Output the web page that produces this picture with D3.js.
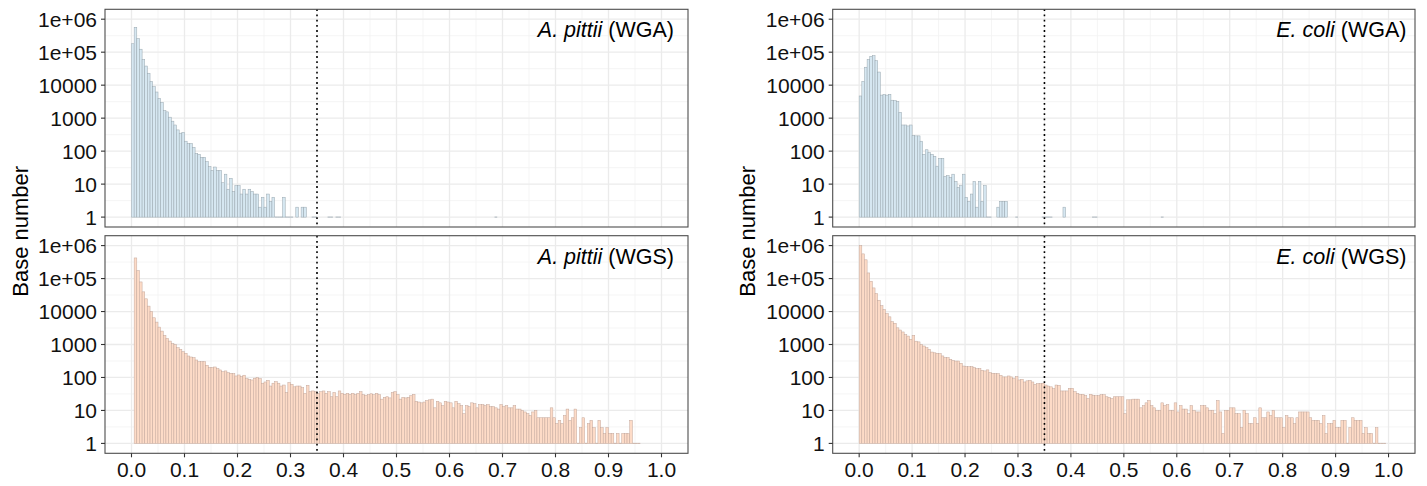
<!DOCTYPE html>
<html>
<head>
<meta charset="utf-8">
<script src="https://cdn.jsdelivr.net/npm/d3@7"></script>
<style>
  body { margin: 0; background: #fff; }
  text { font-family: "Liberation Sans", Arial, sans-serif; }
</style>
</head>
<body>
<svg id="chart" width="1427" height="486"></svg>
<script>
// Histograms of allele fraction, 0.005 wide bins, counts on a log axis

const BINWIDTH = 0.005;
const CUTOFF = 0.35;   // dotted threshold line

const xTicks = [0, 0.1, 0.2, 0.3, 0.4, 0.5, 0.6, 0.7, 0.8, 0.9, 1.0];
const xTickLabels = ["0.0", "0.1", "0.2", "0.3", "0.4", "0.5", "0.6", "0.7", "0.8", "0.9", "1.0"];
const yTicks = [1, 10, 100, 1000, 10000, 1e5, 1e6];
const yTickLabels = ["1", "10", "100", "1000", "10000", "1e+05", "1e+06"];

const species = ["A. pittii", "E. coli"];
const libraries = ["WGA", "WGS"];

// counts per bin, bin i starts at i * BINWIDTH
const apittiiWGA = [
  180000, 570000, 260000, 123000, 60000, 38000, 23000, 13000, 9000, 6200,
  4000, 3000, 1700, 1550, 1070, 810, 620, 440, 350, 370,
  200, 170, 170, 130, 85, 80, 65, 65, 48, 34,
  26, 33, 26, 26, 11, 20, 7, 15, 6, 9,
  9, 5, 7, 5, 7, 6, 5, 5, 2, 4,
  2, 5, 3, 4, 1, 1, 1, 4, 1, 1,
  1, 0, 2, 0, 2, 2, 0, 0, 1, 1,
  0, 0, 0, 0, 1, 1, 0, 1, 1, 0,
  0, 0, 0, 0, 0, 0, 0, 0, 0, 0,
  0, 0, 0, 0, 0, 0, 0, 0, 0, 0,
  0, 0, 0, 0, 0, 0, 0, 0, 0, 0,
  0, 0, 0, 0, 0, 0, 0, 0, 0, 0,
  0, 0, 0, 0, 0, 0, 0, 0, 0, 0,
  0, 0, 0, 0, 0, 0, 0, 1
];

const apittiiWGS = [
  0, 422000, 175000, 79000, 39500, 24300, 14600, 9950, 6460, 4780,
  3370, 2550, 1890, 1530, 1270, 1060, 990, 800, 713, 606,
  540, 448, 418, 399, 339, 302, 302, 302, 234, 199,
  199, 208, 186, 169, 150, 158, 140, 134, 131, 111,
  119, 106, 117, 92, 88, 84, 95, 99, 92, 67,
  73, 82, 55, 67, 75, 67, 55, 59, 35, 70,
  62, 52, 55, 55, 49, 33, 58, 37, 39, 37,
  33, 37, 39, 33, 37, 26, 35, 26, 39, 33,
  31, 33, 31, 33, 30, 33, 37, 30, 29, 30,
  32, 30, 33, 30, 22, 25, 26, 24, 35, 37,
  30, 22, 25, 24, 25, 28, 31, 19, 18, 17,
  18, 20, 21, 22, 12, 19, 17, 14, 19, 18,
  17, 12, 19, 16, 14, 8, 14, 13, 17, 16,
  12, 15, 15, 14, 15, 13, 13, 12, 11, 15,
  13, 14, 12, 12, 14, 11, 11, 10, 9, 8,
  7, 9, 10, 6, 6, 6, 6, 6, 12, 6,
  4, 5, 4, 7, 11, 5, 6, 11, 1, 3,
  6, 1, 4, 5, 3, 1, 5, 3, 2, 3,
  2, 2, 1, 2, 1, 2, 2, 2, 5, 1,
  1, 1
];

const ecoliWGA = [
  4700, 13000, 35000, 60000, 75000, 78000, 55000, 25000, 5000, 5200,
  5000, 5300, 3500, 3400, 3200, 1500, 620, 620, 580, 620,
  300, 290, 290, 200, 80, 110, 90, 80, 70, 35,
  60, 60, 17, 18, 16, 20, 12, 8, 9, 20,
  4, 3, 5, 12, 2, 12, 3, 9, 1, 1,
  0, 0, 2, 3, 3, 3, 0, 0, 0, 1,
  0, 0, 0, 0, 0, 0, 0, 0, 0, 1,
  1, 1, 1, 0, 0, 0, 0, 2, 0, 0,
  0, 0, 0, 0, 0, 0, 0, 0, 1, 1,
  0, 0, 0, 0, 0, 0, 0, 0, 0, 0,
  0, 0, 0, 0, 0, 0, 0, 0, 0, 0,
  0, 0, 0, 0, 1
];

const ecoliWGS = [
  1000000, 560000, 370000, 148000, 83000, 52000, 35000, 22000, 15000, 11500,
  8700, 6900, 4900, 4400, 3200, 2750, 2400, 2000, 1800, 1440,
  1900, 1260, 1200, 1000, 900, 800, 710, 590, 560, 540,
  530, 450, 400, 400, 355, 330, 315, 315, 270, 222,
  212, 212, 212, 198, 185, 185, 165, 158, 170, 140,
  134, 131, 131, 116, 104, 104, 111, 104, 92, 106,
  84, 88, 73, 79, 82, 73, 62, 65, 65, 67,
  59, 55, 52, 46, 59, 58, 39, 39, 39, 47,
  47, 37, 33, 31, 31, 28, 23, 31, 29, 28,
  28, 30, 30, 26, 25, 23, 26, 26, 26, 26,
  8, 21, 21, 22, 22, 22, 12, 14, 17, 20,
  14, 12, 10, 10, 17, 14, 15, 10, 10, 17,
  9, 14, 11, 11, 8, 14, 10, 9, 9, 14,
  14, 12, 10, 10, 8, 20, 9, 2, 10, 10,
  12, 12, 8, 8, 3, 10, 8, 4, 4, 6,
  4, 12, 6, 6, 9, 7, 10, 6, 6, 6,
  3, 7, 6, 6, 4, 6, 9, 9, 9, 9,
  6, 5, 5, 5, 4, 7, 2, 4, 4, 5,
  3, 3, 5, 5, 1, 3, 6, 5, 5, 5,
  2, 3, 2, 2, 1, 3, 1, 1, 1
];

// panel grid: columns = species, rows = library
const panels = [
  {col: 0, row: 0, counts: apittiiWGA},
  {col: 0, row: 1, counts: apittiiWGS},
  {col: 1, row: 0, counts: ecoliWGA},
  {col: 1, row: 1, counts: ecoliWGS}
];

const FILLS = ["#d6e7f1", "#fddbc7"];     // WGA, WGS
const STROKES = ["#98a6ae", "#c3a79b"];

const cols = [{x0: 105, x1: 688, label: 674, title: 20}, {x0: 832.7, x1: 1415, label: 1406.5, title: 747}];
const rows = [{y0: 9.3, y1: 227}, {y0: 235.7, y1: 453.3}];

const svg = d3.select("#chart");

// shared log y domain, 5% expansion in log space like ggplot
const maxCount = d3.max(panels, p => d3.max(p.counts));
const logHi = Math.log10(maxCount);
const pad = 0.05 * logHi;
const yDomain = [Math.pow(10, -pad), Math.pow(10, logHi + pad)];

const xMinor = d3.range(0.05, 1.0, 0.1);
const yMinor = d3.range(0, 6).map(k => Math.pow(10, k + 0.5));

panels.forEach(function(p) {
    let c = cols[p.col], r = rows[p.row];
    let x = d3.scaleLinear().domain([-0.05, 1.05]).range([c.x0, c.x1]);
    let y = d3.scaleLog().domain(yDomain).range([r.y1, r.y0]);
    let g = svg.append("g");

    // Grid lines
    g.selectAll(".xminor").data(xMinor).enter().append("line")
        .attr("x1", d => x(d)).attr("x2", d => x(d))
        .attr("y1", r.y0).attr("y2", r.y1)
        .attr("stroke", "#f3f3f3").attr("stroke-width", 0.8);
    g.selectAll(".yminor").data(yMinor).enter().append("line")
        .attr("x1", c.x0).attr("x2", c.x1)
        .attr("y1", d => y(d)).attr("y2", d => y(d))
        .attr("stroke", "#f3f3f3").attr("stroke-width", 0.8);
    g.selectAll(".xmajor").data(xTicks).enter().append("line")
        .attr("x1", d => x(d)).attr("x2", d => x(d))
        .attr("y1", r.y0).attr("y2", r.y1)
        .attr("stroke", "#ebebeb").attr("stroke-width", 1.3);
    g.selectAll(".ymajor").data(yTicks).enter().append("line")
        .attr("x1", c.x0).attr("x2", c.x1)
        .attr("y1", d => y(d)).attr("y2", d => y(d))
        .attr("stroke", "#ebebeb").attr("stroke-width", 1.3);

    // Bars (bins with zero count are not drawn, a count of 1 is a flat bar)
    let bins = p.counts.map((n, i) => ({x: i * BINWIDTH, n: n})).filter(d => d.n > 0);
    g.selectAll(".bar").data(bins.filter(d => d.n > 1)).enter().append("rect")
        .attr("x", d => x(d.x))
        .attr("width", d => x(d.x + BINWIDTH) - x(d.x))
        .attr("y", d => y(d.n))
        .attr("height", d => y(1) - y(d.n))
        .attr("fill", FILLS[p.row])
        .attr("stroke", STROKES[p.row])
        .attr("stroke-width", 0.5);
    g.selectAll(".flat").data(bins.filter(d => d.n === 1)).enter().append("line")
        .attr("x1", d => x(d.x))
        .attr("x2", d => x(d.x + BINWIDTH))
        .attr("y1", y(1)).attr("y2", y(1))
        .attr("stroke", STROKES[p.row])
        .attr("stroke-width", 0.8);

    // Threshold
    g.append("line")
        .attr("x1", x(CUTOFF)).attr("x2", x(CUTOFF))
        .attr("y1", r.y0).attr("y2", r.y1)
        .attr("stroke", "#000").attr("stroke-width", 1.6)
        .attr("stroke-dasharray", "1.8,3.4");

    // Border
    g.append("rect")
        .attr("x", c.x0).attr("y", r.y0)
        .attr("width", c.x1 - c.x0).attr("height", r.y1 - r.y0)
        .attr("fill", "none").attr("stroke", "#4d4d4d").attr("stroke-width", 1.1);

    // Y axis
    g.selectAll(".ytick").data(yTicks).enter().append("line")
        .attr("x1", c.x0 - 4).attr("x2", c.x0)
        .attr("y1", d => y(d)).attr("y2", d => y(d))
        .attr("stroke", "#333").attr("stroke-width", 1.1);
    g.selectAll(".ylab").data(yTicks).enter().append("text")
        .attr("x", c.x0 - 8).attr("y", d => y(d)).attr("dy", "0.36em")
        .attr("text-anchor", "end").attr("font-size", 21).attr("fill", "#111")
        .text((d, i) => yTickLabels[i]);

    // X axis only under the bottom row
    if (p.row === 1) {
        g.selectAll(".xtick").data(xTicks).enter().append("line")
            .attr("x1", d => x(d)).attr("x2", d => x(d))
            .attr("y1", r.y1).attr("y2", r.y1 + 4)
            .attr("stroke", "#333").attr("stroke-width", 1.1);
        g.selectAll(".xlab").data(xTicks).enter().append("text")
            .attr("x", d => x(d)).attr("y", 476.5)
            .attr("text-anchor", "middle").attr("font-size", 21).attr("fill", "#111")
            .text((d, i) => xTickLabels[i]);
    }

    // Panel label
    let lab = g.append("text")
        .attr("x", c.label).attr("y", r.y0 + 28)
        .attr("text-anchor", "end").attr("font-size", 21.5).attr("fill", "#000");
    lab.append("tspan").attr("font-style", "italic").text(species[p.col]);
    lab.append("tspan").text(" (" + libraries[p.row] + ")");
});

// Y titles
cols.forEach(function(c) {
    svg.append("text")
        .attr("transform", "translate(" + c.title + "," + ((rows[0].y0 + rows[1].y1) / 2) + ") rotate(-90)")
        .attr("dy", "0.35em")
        .attr("text-anchor", "middle").attr("font-size", 22).attr("fill", "#000")
        .text("Base number");
});
</script>
</body>
</html>
